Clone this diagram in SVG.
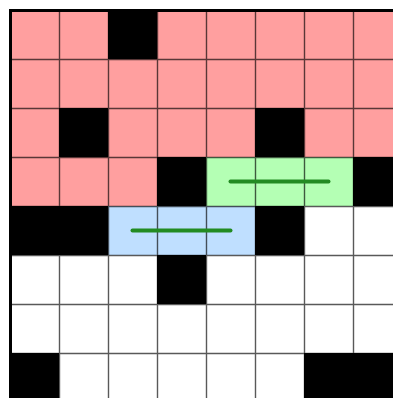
<svg xmlns="http://www.w3.org/2000/svg" width="393" height="398" viewBox="0 0 393 398">
<style>
.p{fill:#ff9f9f}.k{fill:#000}.w{fill:#fff}.g{fill:#b4ffb4}.b{fill:#bfdfff}
.gl{stroke:#000;stroke-opacity:0.65;stroke-width:1.4;fill:none}
.path{stroke:#228b22;stroke-width:4;stroke-linecap:round;fill:none}
</style>
<rect width="393" height="398" fill="#fff"/>
<g id="cells">
<!-- row 0 -->
<rect class="p" x="10" y="10" width="49" height="49"/><rect class="p" x="59" y="10" width="49" height="49"/><rect class="k" x="108" y="10" width="49" height="49"/><rect class="p" x="157" y="10" width="49" height="49"/><rect class="p" x="206" y="10" width="49" height="49"/><rect class="p" x="255" y="10" width="49" height="49"/><rect class="p" x="304" y="10" width="49" height="49"/><rect class="p" x="353" y="10" width="49" height="49"/>
<!-- row 1 -->
<rect class="p" x="10" y="59" width="392" height="49"/>
<!-- row 2 -->
<rect class="p" x="10" y="108" width="49" height="49"/><rect class="k" x="59" y="108" width="49" height="49"/><rect class="p" x="108" y="108" width="147" height="49"/><rect class="k" x="255" y="108" width="49" height="49"/><rect class="p" x="304" y="108" width="98" height="49"/>
<!-- row 3 -->
<rect class="p" x="10" y="157" width="147" height="49"/><rect class="k" x="157" y="157" width="49" height="49"/><rect class="g" x="206" y="157" width="147" height="49"/><rect class="k" x="353" y="157" width="49" height="49"/>
<!-- row 4 -->
<rect class="k" x="10" y="206" width="98" height="49"/><rect class="b" x="108" y="206" width="147" height="49"/><rect class="k" x="255" y="206" width="49" height="49"/><rect class="w" x="304" y="206" width="98" height="49"/>
<!-- row 5 -->
<rect class="k" x="157" y="255" width="49" height="49"/>
<!-- row 7 -->
<rect class="k" x="10" y="353" width="49" height="49"/><rect class="k" x="304" y="353" width="98" height="49"/>
</g>
<g id="grid">
<path class="gl" d="M59.5 10V402M108.5 10V402M157.5 10V402M206.5 10V402M255.5 10V402M304.5 10V402M353.5 10V402M10 59.5H402M10 108.5H402M10 157.5H402M10 206.5H402M10 255.5H402M10 304.5H402M10 353.5H402"/>
<rect x="10.5" y="10.5" width="392" height="392" fill="none" stroke="#000" stroke-width="3"/>
</g>
<g id="connectors">
<line class="path" x1="230.5" y1="181.5" x2="328.5" y2="181.5"/>
<line class="path" x1="132.5" y1="230.5" x2="230.5" y2="230.5"/>
</g>
</svg>
